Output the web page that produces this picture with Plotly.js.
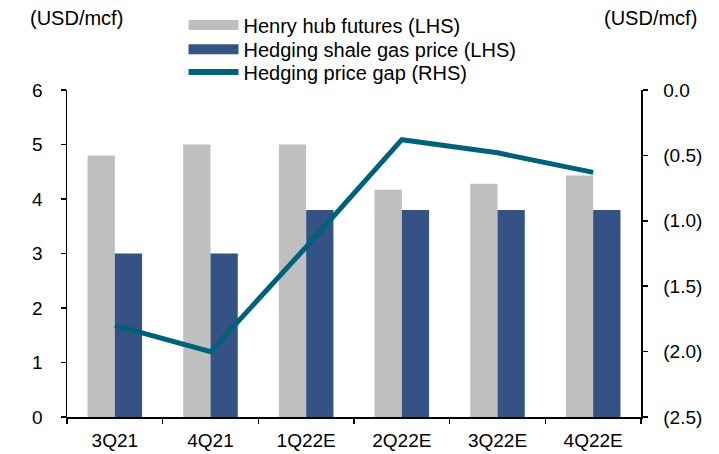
<!DOCTYPE html>
<html>
<head>
<meta charset="utf-8">
<script src="https://cdn.plot.ly/plotly-3.0.1.min.js"></script>
<style>html,body{margin:0;padding:0;background:#fff;}#chart{width:719px;height:454px;}</style>
</head>
<body>
<div id="chart"></div>
<script>
const categories = ["3Q21", "4Q21", "1Q22E", "2Q22E", "3Q22E", "4Q22E"];
const henryHubFutures = [4.8, 5.0, 5.0, 4.17, 4.28, 4.43];
const hedgingShaleGasPrice = [3.0, 3.0, 3.8, 3.8, 3.8, 3.8];
const hedgingPriceGap = [-1.8, -2.0, -1.2, -0.38, -0.48, -0.63];
const rightTickVals = [-2.5, -2.0, -1.5, -1.0, -0.5, 0.0];
const rightTickText = ["(2.5)", "(2.0)", "(1.5)", "(1.0)", "(0.5)", "0.0"];
const names = ["Henry hub futures (LHS)", "Hedging shale gas price (LHS)", "Hedging price gap (RHS)"];
const unitLabel = "(USD/mcf)";

const GREY = "#BFBFBF", BLUE = "#345283", TEAL = "#00627A";
const FONT = "Liberation Sans, Arial, sans-serif";

const traces = [
  {type: "bar", x: categories, y: henryHubFutures, name: names[0], marker: {color: GREY}, showlegend: false, yaxis: "y"},
  {type: "bar", x: categories, y: hedgingShaleGasPrice, name: names[1], marker: {color: BLUE}, showlegend: false, yaxis: "y"},
  {type: "scatter", mode: "lines", x: categories, y: hedgingPriceGap, name: names[2], line: {color: TEAL, width: 5}, yaxis: "y2", showlegend: false},
  {type: "scatter", mode: "lines", x: [null], y: [null], name: names[0], line: {color: GREY, width: 10}, showlegend: true, legend: "legend", hoverinfo: "skip"},
  {type: "scatter", mode: "lines", x: [null], y: [null], name: names[1], line: {color: BLUE, width: 10}, showlegend: true, legend: "legend2", hoverinfo: "skip"},
  {type: "scatter", mode: "lines", x: [null], y: [null], name: names[2], line: {color: TEAL, width: 6}, showlegend: true, legend: "legend3", hoverinfo: "skip"}
];

function leg(y) {
  return {
    x: 0.203, y: y, xanchor: "left", yanchor: "middle",
    bgcolor: "rgba(0,0,0,0)", font: {size: 20, family: FONT, color: "#000"},
    itemwidth: 50
  };
}

const axisCommon = {
  showline: true, linecolor: "#000", linewidth: 1.5,
  ticks: "outside", ticklen: 5, tickcolor: "#000", tickwidth: 1.5,
  showgrid: false, zeroline: false, tickfont: {size: 19}
};

const layout = {
  width: 719, height: 454,
  margin: {l: 67, r: 78, t: 90, b: 37, pad: 0, autoexpand: false},
  paper_bgcolor: "#fff", plot_bgcolor: "#fff",
  font: {family: FONT, size: 19, color: "#000"},
  barmode: "group", bargap: 0.43, bargroupgap: 0,
  xaxis: Object.assign({}, axisCommon, {
    type: "category", tickson: "boundaries", ticklabelstandoff: 6
  }),
  yaxis: Object.assign({}, axisCommon, {
    range: [0, 6], dtick: 1, ticklabelstandoff: 14
  }),
  yaxis2: Object.assign({}, axisCommon, {
    overlaying: "y", side: "right", range: [-2.5, 0],
    tickmode: "array", tickvals: rightTickVals, ticktext: rightTickText,
    ticklabelstandoff: 12
  }),
  legend: leg(1.199),
  legend2: leg(1.125),
  legend3: leg(1.055),
  annotations: [
    {xref: "paper", yref: "paper", x: 0.0157, y: 1.22, xanchor: "center", yanchor: "middle",
     text: unitLabel, showarrow: false, font: {size: 20}},
    {xref: "paper", yref: "paper", x: 1.0157, y: 1.22, xanchor: "center", yanchor: "middle",
     text: unitLabel, showarrow: false, font: {size: 20}}
  ],
  showlegend: true
};

Plotly.newPlot("chart", traces, layout, {staticPlot: true, displayModeBar: false});
</script>
</body>
</html>
